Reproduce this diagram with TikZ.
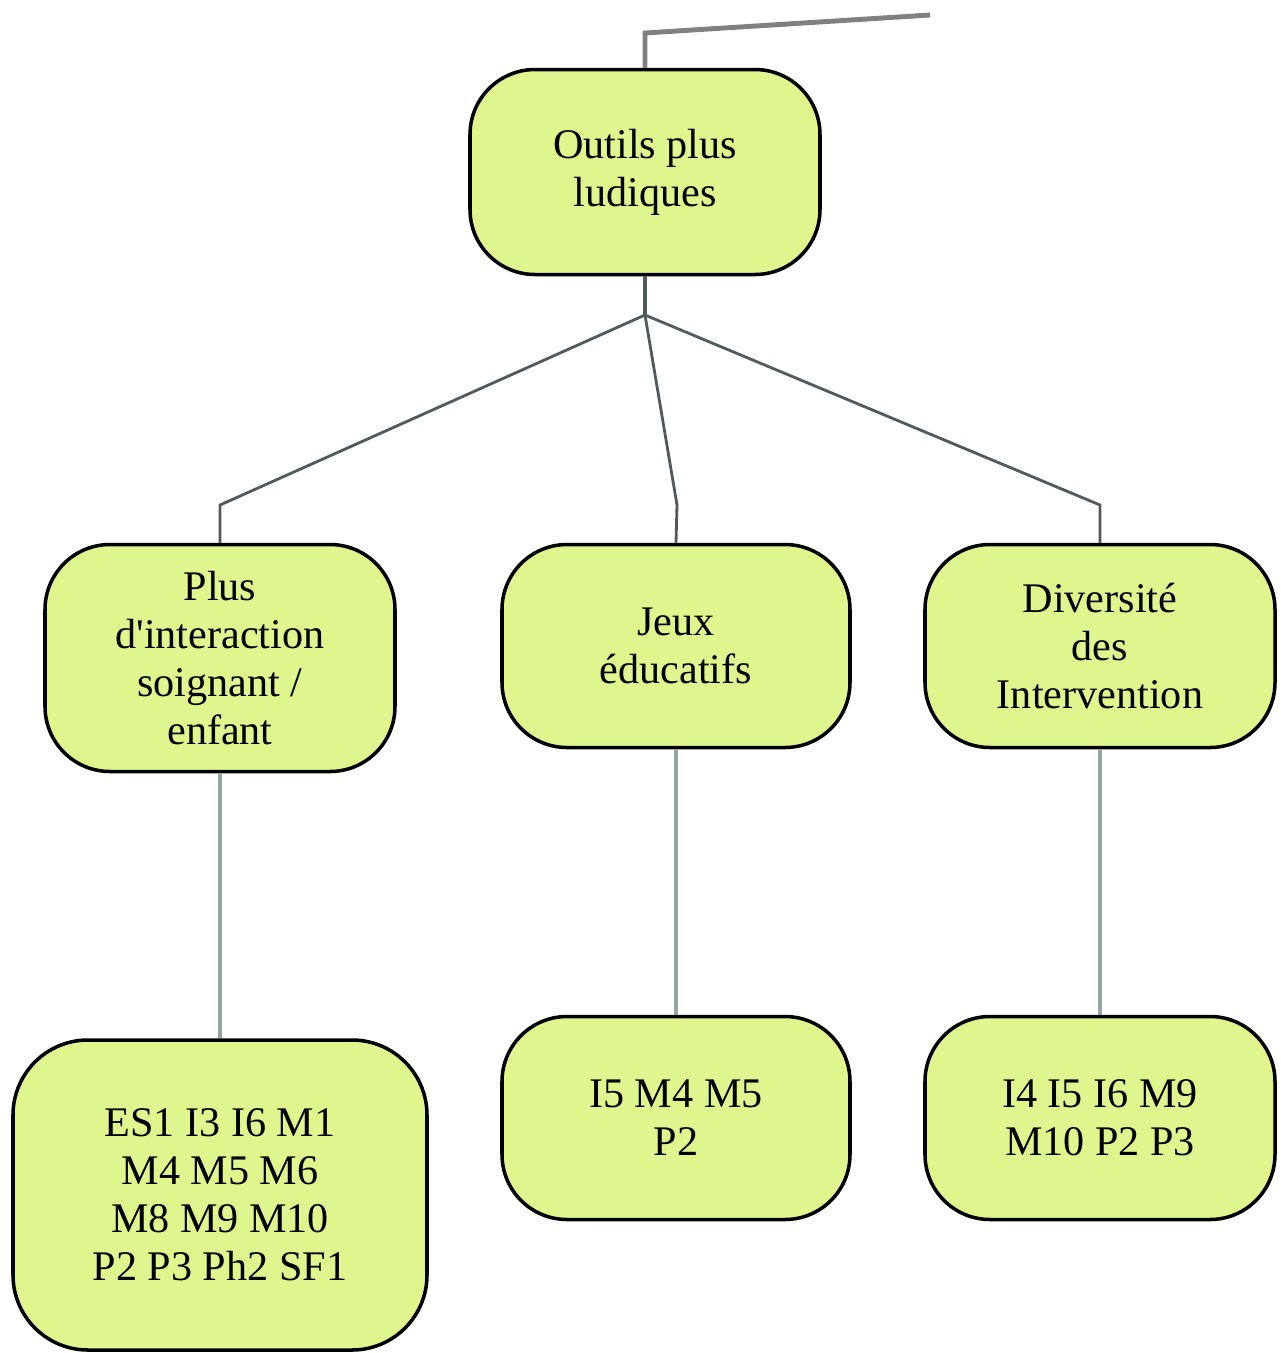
\documentclass[tikz,border=0pt]{standalone}
\usepackage{fontspec}
\setmainfont{Liberation Serif}
\definecolor{boxfill}{HTML}{DFF68F}
\definecolor{linkdark}{HTML}{4E5A5E}
\definecolor{linklight}{HTML}{97A4A7}
\begin{document}
\begin{tikzpicture}[%
        theme/.style={%
            rectangle,%
            rounded corners=0.65cm,%
            align=center,%
            line width=1pt,%
            draw=black, %
            fill=boxfill,%
            font=\fontsize{12}{13.7}\selectfont,%
            inner sep=0pt%
        },%
        fork/.style={%
            draw=linkdark,%
            line width=0.8pt%
        },%
        stem/.style={%
            draw=linklight,%
            line width=1.4pt%
        }%
    ]
    \useasboundingbox (0,0) rectangle (12.81,-13.53);
    \node (outils) at ( 6.45,-1.72) [theme,minimum width=3.5cm,minimum height=2.05cm]{Outils plus\\ludiques};
    \node (interaction) at ( 2.20,-6.58) [theme,minimum width=3.5cm,minimum height=2.27cm]{Plus\\d\textquotesingle interaction\\soignant /\\enfant};
    \node (jeux) at ( 6.76,-6.46) [theme,minimum width=3.48cm,minimum height=2.03cm]{Jeux\\\'educatifs};
    \node (diversite) at (11.00,-6.46) [theme,minimum width=3.5cm,minimum height=2.03cm]{Diversit\'e\\des\\Intervention};
    \node (codesA) at ( 2.20,-11.95) [theme,rounded corners=0.75cm,minimum width=4.14cm,minimum height=3.1cm]{ES1 I3 I6 M1\\M4 M5 M6\\M8 M9 M10\\P2 P3 Ph2 SF1};
    \node (codesB) at ( 6.76,-11.18) [theme,minimum width=3.48cm,minimum height=2.03cm]{I5 M4 M5\\P2};
    \node (codesC) at (11.00,-11.18) [theme,minimum width=3.5cm,minimum height=2.03cm]{I4 I5 I6 M9\\M10 P2 P3};
    \coordinate (elbow) at (6.45,-0.33);
    \coordinate (tail) at (9.30,-0.15);
    \coordinate (split) at (6.45,-3.15);
    \coordinate (bendA) at (2.20,-5.05);
    \coordinate (bendB) at (6.77,-5.05);
    \coordinate (bendC) at (11.00,-5.05);
    \draw [stem,draw=gray] (outils.north) -- (elbow) -- (tail);
    \draw [fork,line width=1.3pt] (outils.south) -- (split);
    \draw [fork] (split) -- (bendA) -- (interaction.north);
    \draw [fork] (split) -- (bendB) -- (jeux.north);
    \draw [fork] (split) -- (bendC) -- (diversite.north);
    \draw [stem] (interaction.south) -- (codesA.north);
    \draw [stem] (jeux.south) -- (codesB.north);
    \draw [stem] (diversite.south) -- (codesC.north);
\end{tikzpicture}
\end{document}
